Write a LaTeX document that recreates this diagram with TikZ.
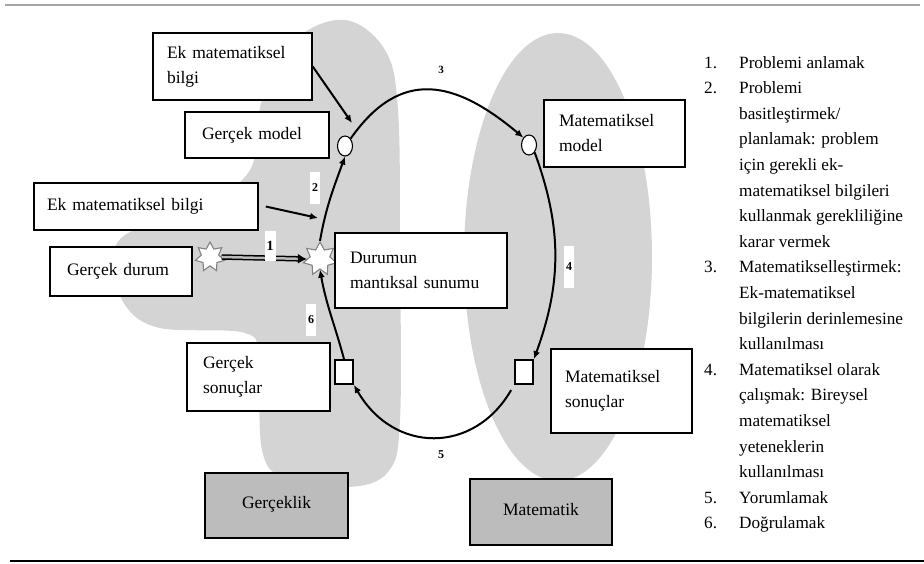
\documentclass[tikz,border=0pt]{standalone}
\usepackage{fontspec}
\setmainfont{Liberation Serif}
\usetikzlibrary{shapes.geometric,arrows.meta}

\definecolor{blobgray}{RGB}{212,212,212}
\definecolor{boxgray}{RGB}{188,188,188}
\definecolor{stargray}{RGB}{130,130,130}

\begin{document}
\begin{tikzpicture}[x=1pt,y=1pt,
  lbl/.style={draw, line width=1.5pt, fill=white, inner ysep=0pt, align=left,
              font=\fontsize{17.5}{25}\selectfont},
  realm/.style={draw, line width=1.5pt, fill=boxgray, inner sep=0pt,
                font=\fontsize{17.5}{25}\selectfont},
  ring/.style={ellipse, draw, line width=1.1pt, fill=white, inner sep=0pt,
               minimum width=15pt, minimum height=20pt},
  sq/.style={rectangle, draw, line width=1.8pt, fill=white, inner sep=0pt,
             minimum width=18pt, minimum height=24pt},
  burst/.style={star, star points=7, star point ratio=1.7, draw=stargray,
                fill=white, line width=1.1pt, inner sep=0pt},
  arr/.style={line width=2pt, -{Latex[length=8pt,width=7pt]}},
  num/.style={fill=white, inner sep=2pt, font=\fontsize{12}{12}\selectfont\bfseries},
]
\useasboundingbox (0,0) rectangle (924,-563);

% rules above and below
\draw[gray!70, line width=2pt] (5,-5) -- (920,-5);
\draw[black, line width=2.2pt] (10,-561) -- (924,-561);

% shaded realms
\fill[blobgray] plot[smooth cycle, tension=0.6] coordinates {
  (345,-20) (385,-50) (398,-110) (400,-250) (400,-420) (388,-472) (348,-487)
  (285,-478) (262,-450) (258,-360) (245,-333) (160,-328) (125,-305) (115,-265)
  (125,-235) (200,-205) (250,-170) (262,-100) (295,-40)};
\fill[blobgray] (558,-257) ellipse[x radius=94pt, y radius=224pt];

% stations on the cycle
\node[ring] (gm) at (345,-146) {};
\node[ring] (mm) at (529,-145) {};
\node[sq] (gs) at (344,-372) {};
\node[sq] (ms) at (524,-372) {};
\node[burst, minimum size=34pt] (sS) at (320,-259) {};
\node[burst, minimum size=30pt] (sG) at (210,-257) {};

% cycle arrows
\draw[arr] (sS.north) to[out=80, in=-110] (gm.south);
\draw[arr] (gm.north east) to[out=55, in=140, looseness=1.3] (mm.north west);
\draw[arr] (mm.south east) to[out=-70, in=70] (ms.north east);
\draw[arr, shorten <=6pt] (ms.south west) to[out=-120, in=-60, looseness=1.28] (gs.south east);
\draw[arr] (gs.north) to[out=105, in=-80] (sS.south);
\draw[line width=1.5pt, double=gray!55, double distance=2.5pt,
      -{Latex[length=9pt,width=10pt]}] (sG.east) -- (sS.west);

% step numbers
\node[num, font=\fontsize{14}{14}\selectfont\bfseries, minimum height=30pt] (n1) at (270,-246) {1};
\node[num, minimum height=32pt] (n2) at (315,-188) {2};
\node[num, fill=none, font=\fontsize{11}{11}\selectfont\bfseries] (n3) at (441,-70) {3};
\node[num, minimum height=42pt] (n4) at (569,-267) {4};
\node[num, fill=none] (n5) at (441,-455) {5};
\node[num, minimum height=32pt] (n6) at (311,-320) {6};

% labelled boxes
\node[lbl, text width=131pt, inner xsep=14pt, minimum height=67pt] (ekTop) at (232.5,-66.5) {Ek matematiksel\\bilgi};
\node[lbl, text width=110pt, inner xsep=17pt, minimum height=46pt] (gModel) at (257,-135) {Gerçek model};
\node[lbl, text width=198pt, inner xsep=13pt, minimum height=47pt] (ekMid) at (146,-206.5) {Ek matematiksel bilgi};
\node[lbl, text width=108pt, inner xsep=17pt, minimum height=49pt] (gDurum) at (121,-271.5) {Gerçek durum};
\node[lbl, text width=142pt, inner xsep=15pt, minimum height=75pt] (durum) at (421,-270.5) {Durumun\\mantıksal sunumu};
\node[lbl, text width=111pt, inner xsep=16pt, minimum height=68pt] (gSonuc) at (258.5,-377) {Gerçek\\sonuçlar};
\node[lbl, text width=111pt, inner xsep=15pt, minimum height=67pt] (mModel) at (614.5,-133.5) {Matematiksel\\model};
\node[lbl, text width=113pt, inner xsep=14pt, minimum height=84pt] (mSonuc) at (621.5,-391) {Matematiksel\\sonuçlar};

\node[realm, minimum width=143pt, minimum height=65pt] (real) at (276.5,-505.5) {\raisebox{7pt}{Gerçeklik}};
\node[realm, minimum width=142pt, minimum height=66pt] (math) at (541,-512) {\raisebox{6pt}{Matematik}};

% extra knowledge feeding in
\coordinate (tipTop) at (352,-123);
\coordinate (tipMid) at (318,-218);
\draw[arr] (ekTop.east) -- (tipTop);
\draw[arr] ([xshift=7pt]ekMid.east) -- (tipMid);

% list of steps
\node[anchor=north west, inner sep=0pt, font=\fontsize{17.2}{25.6}\selectfont] (steps) at (704,-50) {%
\begin{tabular}{@{}l@{}l@{}}
\makebox[35pt][l]{1.} & Problemi anlamak\\
\makebox[35pt][l]{2.} & Problemi\\
 & basitleştirmek/\\
 & planlamak: problem\\
 & için gerekli ek-\\
 & matematiksel bilgileri\\
 & kullanmak gerekliliğine\\
 & karar vermek\\
\makebox[35pt][l]{3.} & Matematikselleştirmek:\\
 & Ek-matematiksel\\
 & bilgilerin derinlemesine\\
 & kullanılması\\
\makebox[35pt][l]{4.} & Matematiksel olarak\\
 & çalışmak: Bireysel\\
 & matematiksel\\
 & yeteneklerin\\
 & kullanılması\\
\makebox[35pt][l]{5.} & Yorumlamak\\
\makebox[35pt][l]{6.} & Doğrulamak
\end{tabular}};
\end{tikzpicture}
\end{document}
